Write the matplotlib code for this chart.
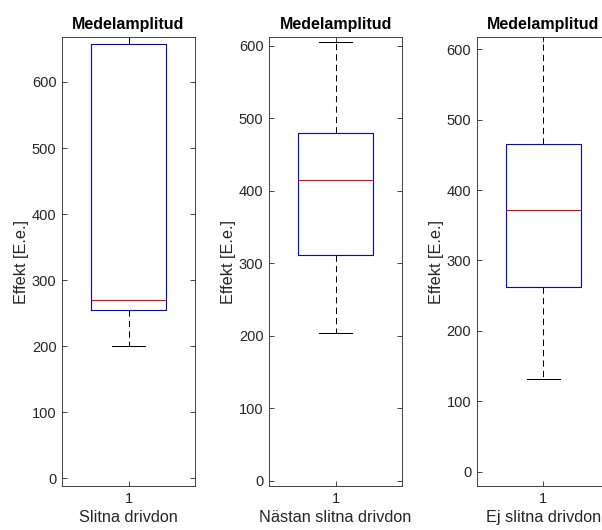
import matplotlib.pyplot as plt

plt.rcParams['font.family'] = ['Liberation Sans', 'DejaVu Sans']

# Lådagrammens statistik per grupp (effekt i E.e.)
groups = ['Slitna drivdon', 'Nästan slitna drivdon', 'Ej slitna drivdon']
whis_low = [200, 204, 132]
q1 = [255, 312, 263]
median = [270, 415, 371]
q3 = [657, 480, 465]
whis_high = [680, 605, 630]
ylims = [(-12, 668), (-7, 612), (-20, 617)]
yticks = [0, 100, 200, 300, 400, 500, 600]

gray = '#262626'
fig = plt.figure(figsize=(6.02, 5.30), dpi=100)

lefts = [0.103, 0.447, 0.792]
for i, name in enumerate(groups):
    ax = fig.add_axes([lefts[i], 0.083, 0.221, 0.847])
    stats = [{
        'whislo': whis_low[i], 'q1': q1[i], 'med': median[i],
        'q3': q3[i], 'whishi': whis_high[i], 'fliers': [],
    }]
    ax.bxp(stats, positions=[1], widths=0.56, capwidths=0.25,
           boxprops=dict(color='blue', linewidth=0.8),
           medianprops=dict(color='red', linewidth=0.8),
           whiskerprops=dict(color='black', linewidth=0.75, linestyle=(0, (6, 4))),
           capprops=dict(color='black', linewidth=0.75))
    ax.set_xlim(0.5, 1.5)
    ax.set_ylim(*ylims[i])
    ax.set_xticks([1])
    ax.set_xticklabels(['1'])
    ax.set_yticks(yticks)
    ax.tick_params(direction='in', length=3.5, width=0.6, colors=gray,
                   labelsize=10.5, top=True, right=True, pad=4)
    for sp in ax.spines.values():
        sp.set_color(gray)
        sp.set_linewidth(0.6)
    ax.set_title('Medelamplitud', fontsize=11.5, fontweight='bold', pad=6)
    ax.set_ylabel('Effekt [E.e.]', fontsize=11.7, color=gray, labelpad=2)
    ax.set_xlabel(name, fontsize=11.7, color=gray, labelpad=3)

fig.savefig('out.png', dpi=100)
